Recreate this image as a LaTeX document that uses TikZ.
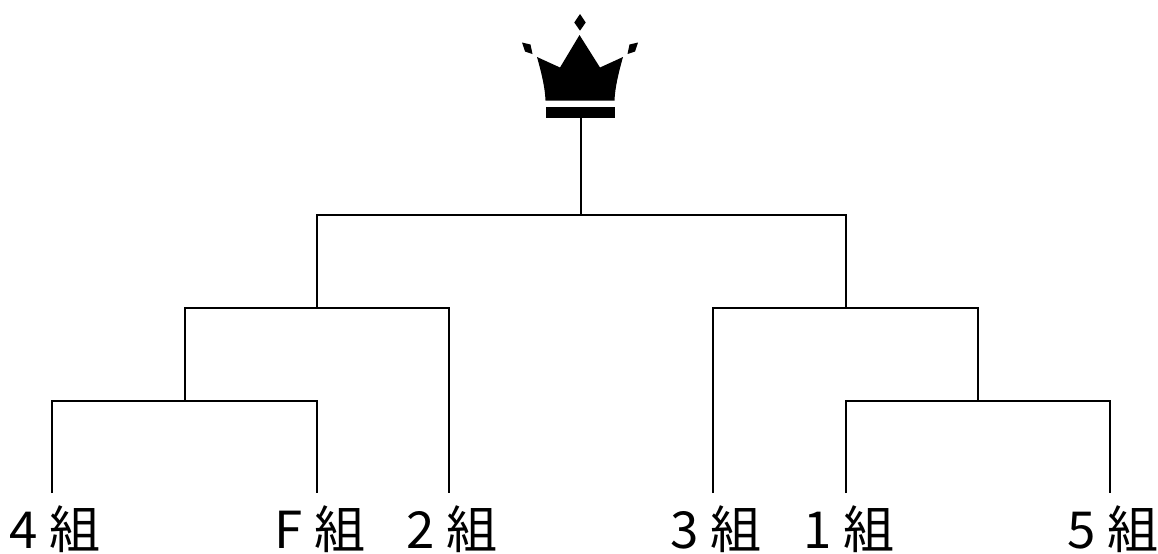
\documentclass[tikz,border=0pt]{standalone}
\usepackage{fontspec}
\newfontfamily\jpfont{Noto Sans CJK JP}
\usetikzlibrary{positioning}
\usetikzlibrary{calc}

\begin{document}
\begin{tikzpicture}[x=0.5pt, y=-0.5pt, line width=1pt,
  team/.style={anchor=base, inner sep=0pt, xshift=1.5pt, font=\jpfont\fontsize{25.5}{30}\selectfont}]

	\useasboundingbox (0,0) rectangle (1158,553);

	\def\ytop{493};
	\def\ylab{548};

	% teams and leaf ends
	\foreach \x/\num/\name in {52/4/l4, 317/F/lF, 449/2/l2, 713/3/l3, 846/1/l1, 1110/5/l5} {
		\node[team] (\name) at (\x, \ylab) {\num\ 組};
		\coordinate (t\name) at (\x, \ytop);
	}

	% junctions
	\coordinate (m1) at (185,401);
	\coordinate (m2) at (317,308);
	\coordinate (m3) at (978,401);
	\coordinate (m4) at (846,308);
	\coordinate (m5) at (581,215);
	\coordinate (crown) at (581,118);

	\draw (tl4) |- (m1) -| (tlF);
	\draw (m1) |- (m2) -| (tl2);
	\draw (tl1) |- (m3) -| (tl5);
	\draw (tl3) |- (m4) -| (m3);
	\draw (m2) |- (m5) -| (m4);
	\draw (m5) -- (crown);

	% crown
	\fill (537,57) -- (560,67.5) -- (579.5,35) -- (600,67.5) -- (623,57)
		.. controls (618,75) and (615,88) .. (614.5,100.5) -- (545.5,100.5)
		.. controls (545,88) and (542,75) .. (537,57) -- cycle;
	\fill (545.5,106.5) rectangle (615,118.3);
	\fill (580,14) -- (585.7,22.5) -- (580,30.7) -- (574.3,22.5) -- cycle;
	\fill (522,42.5) -- (530.5,44.5) -- (532.5,54) -- (525,51.5) -- cycle;
	\fill (638,42.5) -- (629.5,44.5) -- (627.5,54) -- (635,51.5) -- cycle;

\end{tikzpicture}
\end{document}
